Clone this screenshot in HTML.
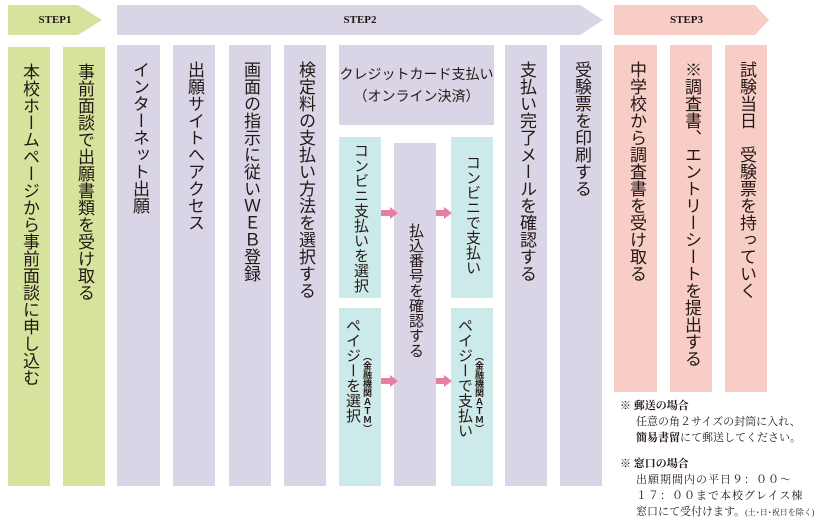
<!DOCTYPE html>
<html><head><meta charset="utf-8"><style>
body{margin:0;width:834px;height:525px;background:#fff;position:relative;overflow:hidden;font-family:"Liberation Sans","Noto Sans CJK JP",sans-serif;color:#231815}
.b{position:absolute;box-sizing:border-box}
.g{background:#d5e39c}.p{background:#dad4e7}.k{background:#f8cdc5}.c{background:#cdeaea}
.v{writing-mode:vertical-rl;font-size:17px;line-height:42px;text-align:left;padding-top:16px;white-space:nowrap;letter-spacing:0px}
.hd{position:absolute;top:5px;height:30px;font-family:"Liberation Serif",serif;font-weight:bold;font-size:11px;line-height:30px;text-align:center}
.ar{position:absolute;width:0;height:0;border-top:6px solid transparent;border-bottom:6px solid transparent;border-left:8px solid #e47ea3}
.as{position:absolute;height:6px;background:#e47ea3}
.sm{position:absolute;writing-mode:vertical-rl;font-size:9px;line-height:10px;width:10px;white-space:nowrap;font-weight:bold}
.mt{position:absolute;writing-mode:vertical-rl;font-size:15px;line-height:18px;width:18px;white-space:nowrap}
.n{position:absolute;left:620px;font-size:11px;line-height:16px;font-family:"Liberation Serif","Noto Serif CJK SC",serif}
</style></head><body>
<div class="hd g" style="left:8px;clip-path:polygon(0 0,70px 0,94px 50%,70px 100%,0 100%);width:94px;">STEP1</div>
<div class="hd p" style="left:117px;width:486px;clip-path:polygon(0 0,463px 0,486px 50%,463px 100%,0 100%)">STEP2</div>
<div class="hd k" style="left:614px;width:155px;clip-path:polygon(0 0,141px 0,155px 50%,141px 100%,0 100%);text-indent:-10px">STEP3</div>

<div class="b g v" style="left:8px;top:47px;width:42px;height:439px">本校ホームページから事前面談に申し込む</div>
<div class="b g v" style="left:63px;top:47px;width:42px;height:439px">事前面談で出願書類を受け取る</div>
<div class="b p v" style="left:117px;top:45px;width:43px;height:441px">インターネット出願</div>
<div class="b p v" style="left:173px;top:45px;width:42px;height:441px">出願サイトへアクセス</div>
<div class="b p v" style="left:229px;top:45px;width:42px;height:441px">画面の指示に従いＷＥＢ登録</div>
<div class="b p v" style="left:284px;top:45px;width:42px;height:441px">検定料の支払い方法を選択する</div>
<div class="b p" style="left:339px;top:45px;width:155px;height:80px;font-size:14px;line-height:22px;text-align:center;padding-top:18px">クレジットカード支払い<br>（オンライン決済）</div>
<div class="b c v" style="left:339px;top:137px;width:42px;height:161px;padding-top:6px;font-size:15px">コンビニ支払いを選択</div>
<div class="b c" style="left:339px;top:308px;width:42px;height:178px"></div>
<div class="mt" style="left:343px;top:318px">ペイジーを選択</div>
<div class="sm" style="left:362px;top:352px">（金融機関ＡＴＭ）</div>
<div class="b p v" style="left:394px;top:143px;width:42px;height:343px;padding-top:80px;font-size:15px">払込番号を確認する</div>
<div class="b c v" style="left:451px;top:137px;width:42px;height:161px;padding-top:18px;font-size:15px">コンビニで支払い</div>
<div class="b c" style="left:451px;top:308px;width:42px;height:178px"></div>
<div class="mt" style="left:455px;top:318px">ペイジーで支払い</div>
<div class="sm" style="left:474px;top:352px">（金融機関ＡＴＭ）</div>
<div class="as" style="left:381px;top:210px;width:10px"></div><div class="ar" style="left:390px;top:207px"></div>
<div class="as" style="left:436px;top:210px;width:9px"></div><div class="ar" style="left:444px;top:207px"></div>
<div class="as" style="left:381px;top:378px;width:10px"></div><div class="ar" style="left:390px;top:375px"></div>
<div class="as" style="left:436px;top:378px;width:9px"></div><div class="ar" style="left:444px;top:375px"></div>
<div class="b p v" style="left:505px;top:45px;width:42px;height:441px">支払い完了メールを確認する</div>
<div class="b p v" style="left:560px;top:45px;width:42px;height:441px">受験票を印刷する</div>
<div class="b k v" style="left:614px;top:45px;width:43px;height:347px">中学校から調査書を受け取る</div>
<div class="b k v" style="left:670px;top:45px;width:42px;height:347px">※調査書、エントリーシートを提出する</div>
<div class="b k v" style="left:725px;top:45px;width:42px;height:347px">試験当日　受験票を持っていく</div>

<div class="n" style="top:398px"><b>※ 郵送の場合</b></div>
<div class="n" style="top:414px;left:636px">任意の角２サイズの封筒に入れ、</div>
<div class="n" style="top:430px;left:636px"><b>簡易書留</b>にて郵送してください。</div>
<div class="n" style="top:456px"><b>※ 窓口の場合</b></div>
<div class="n" style="top:472px;left:636px;letter-spacing:1px">出願期間内の平日９：００〜</div>
<div class="n" style="top:488px;left:636px;letter-spacing:1px">１７：００まで本校グレイス棟</div>
<div class="n" style="top:504px;left:636px">窓口にて受付けます。<span style="font-size:8px">(土･日･祝日を除く)</span></div>
</body></html>
